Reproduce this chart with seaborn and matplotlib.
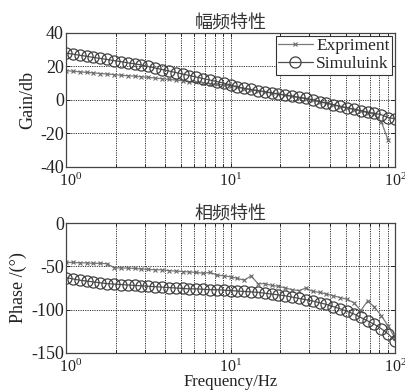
import numpy as np
import pandas as pd
import matplotlib
matplotlib.use("Agg")
import matplotlib.pyplot as plt
import matplotlib.transforms as mtransforms
import seaborn as sns
from matplotlib.ticker import LogLocator, NullFormatter, MultipleLocator

# ---- data ----
freq = [1.000, 1.101, 1.212, 1.334, 1.468, 1.616, 1.778, 1.957, 2.154, 2.371,
        2.610, 2.873, 3.162, 3.481, 3.831, 4.217, 4.642, 5.109, 5.623, 6.190,
        6.813, 7.499, 8.254, 9.086, 10.00, 11.01, 12.12, 13.34, 14.68, 16.16,
        17.78, 19.57, 21.54, 23.71, 26.10, 28.73, 31.62, 34.81, 38.31, 42.17,
        46.42, 51.09, 56.23, 61.90, 68.13, 74.99, 82.54, 90.86, 100.0]

gain_sim = [28.0, 27.4, 26.7, 26.1, 25.4, 24.8, 24.2, 23.5, 22.9, 22.2,
            21.6, 20.9, 20.0, 19.1, 18.2, 17.3, 16.4, 15.5, 14.6, 13.7,
            12.8, 11.9, 11.0, 10.1, 9.0, 7.8, 7.0, 6.3, 5.6, 5.0,
            4.3, 3.6, 3.0, 2.3, 1.6, 1.0, 0.1, -0.9, -1.8, -2.8,
            -3.7, -4.6, -5.4, -6.3, -7.2, -8.0, -8.8, -10.5, -11.2]

gain_exp = [17.5, 17.2, 16.8, 16.5, 16.2, 15.8, 15.5, 15.2, 14.8, 14.5,
            14.2, 13.9, 13.5, 13.1, 12.7, 12.3, 11.9, 11.5, 11.0, 10.6,
            10.2, 9.8, 9.4, 9.0, 8.5, 7.6, 6.8, 6.1, 5.4, 4.8,
            4.1, 3.4, 2.8, 2.1, 1.4, 0.8, -0.1, -1.1, -2.0, -3.0,
            -3.9, -4.8, -5.7, -6.6, -7.6, -8.6, -13.0, -24.0]

phase_sim = [-63, -64.5, -66, -67, -68, -69, -70, -70.5, -71, -71.5,
             -72, -72.5, -73, -73.5, -74, -74.5, -75, -75.5, -76, -76,
             -76.5, -77, -77, -77.5, -78, -78.5, -79, -79.5, -80, -81,
             -82, -83, -84, -85.5, -87, -88.5, -90, -92, -94, -96.5,
             -99, -102, -105, -109, -113, -117, -122, -128, -136]

phase_exp = [-45.5, -45.5, -46, -46, -46.5, -46.5, -47, -51.5, -52, -52,
             -52.5, -53, -53.5, -54, -54, -55, -55.5, -56, -56.5, -57,
             -58, -57, -60, -61, -62, -64, -66, -61, -70, -70,
             -72, -73, -75, -77, -78, -75, -79, -80, -82, -84,
             -86, -88, -92, -101, -90, -97, -107, -119, -133]

labels = ["Expriment", "Simuluink"]
titles = ["幅频特性", "相频特性"]

# ---- style ----
sns.set_style("ticks")
plt.rcParams["font.family"] = ["Liberation Serif", "Noto Sans CJK SC", "DejaVu Sans"]
plt.rcParams["mathtext.fontset"] = "stix"
plt.rcParams["axes.unicode_minus"] = False

fig = plt.figure(figsize=(4.06, 3.90), dpi=100)
ax1 = fig.add_axes([0.1626, 0.5718, 0.8104, 0.3436])
ax2 = fig.add_axes([0.1626, 0.0949, 0.8104, 0.3333])

exp_kw = dict(color="#7a7a7a", linewidth=0.9, marker="x", markersize=3.5,
              markeredgewidth=0.8, markeredgecolor="#6a6a6a")
sim_kw = dict(color="#505050", linewidth=0.9, marker="o", markersize=8.0,
              markerfacecolor="none", markeredgecolor="#404040", markeredgewidth=0.9)

df_ge = pd.DataFrame({"f": freq[:len(gain_exp)], "v": gain_exp})
df_gs = pd.DataFrame({"f": freq, "v": gain_sim})
df_pe = pd.DataFrame({"f": freq, "v": phase_exp})
df_ps = pd.DataFrame({"f": freq, "v": phase_sim})

sns.lineplot(data=df_ge, x="f", y="v", ax=ax1, label=labels[0], **exp_kw)
sns.lineplot(data=df_gs, x="f", y="v", ax=ax1, label=labels[1], **sim_kw)
sns.lineplot(data=df_pe, x="f", y="v", ax=ax2, **exp_kw)
sns.lineplot(data=df_ps, x="f", y="v", ax=ax2, **sim_kw)

for ax, title in zip([ax1, ax2], titles):
    ax.set_xscale("log")
    ax.set_xlim(1, 100)
    ax.xaxis.set_major_locator(LogLocator(base=10))
    ax.xaxis.set_minor_locator(LogLocator(base=10, subs=np.arange(2, 10)))
    ax.xaxis.set_minor_formatter(NullFormatter())
    ax.grid(True, which="major", axis="both", linestyle=(0, (1.2, 1.2)),
            color="#333333", linewidth=0.7)
    ax.grid(True, which="minor", axis="x", linestyle=(0, (1.2, 1.2)),
            color="#333333", linewidth=0.7)
    ax.tick_params(which="both", direction="in", top=True, right=True,
                   length=3, width=0.7, colors="#222222")
    ax.tick_params(axis="y", pad=1.5, labelsize=13)
    ax.tick_params(axis="x", pad=4, labelsize=11.5)
    ax.tick_params(which="minor", length=2)
    for s in ax.spines.values():
        s.set_color("#444444")
        s.set_linewidth(0.9)
    ax.set_title(title, fontsize=13, pad=2, color="#333333",
                 family=["Noto Sans CJK SC", "DejaVu Sans"])
    ax.set_xlabel("")

ax1.set_ylim(-40, 40)
ax1.yaxis.set_major_locator(MultipleLocator(20))
ax1.set_ylabel("Gain/db", fontsize=13, labelpad=3, color="#222222")

ax2.set_ylim(-150, 0)
ax2.yaxis.set_major_locator(MultipleLocator(50))
ax2.set_ylabel("Phase /(°)", fontsize=13, labelpad=3, color="#222222")
ax2.set_xlabel("Frequency/Hz", fontsize=12, labelpad=-1, color="#222222")

leg = ax1.legend(loc="upper right", fontsize=12.5, frameon=True, fancybox=False,
                 edgecolor="#333333", borderpad=0.15, labelspacing=0.1,
                 handlelength=2.0, handletextpad=0.2, borderaxespad=0.15,
                 framealpha=1)
leg.get_frame().set_linewidth(0.8)

# nudge the 10^0 labels slightly right, as in the reference
fig.canvas.draw()
offset = mtransforms.ScaledTranslation(5 / 100, 0, fig.dpi_scale_trans)
for ax in (ax1, ax2):
    for tick in ax.xaxis.get_major_ticks():
        if abs(tick.get_loc() - 1.0) < 1e-9:
            tick.label1.set_transform(tick.label1.get_transform() + offset)

fig.savefig("out.png", dpi=100)
